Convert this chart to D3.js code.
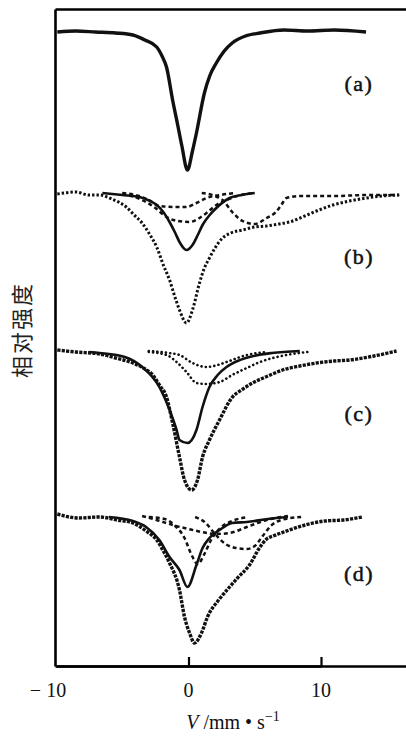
<!DOCTYPE html>
<html><head><meta charset="utf-8">
<script src="https://cdn.jsdelivr.net/npm/d3@7"></script>
<style>html,body{margin:0;padding:0;background:#fff;}svg{display:block;}</style>
</head><body>
<svg id="chart" width="406" height="742"></svg>
<script>
// ---- data: velocity (mm/s), relative transmission intensity ----
const panelLabels = ["(a)", "(b)", "(c)", "(d)"];
const xTicks = [-10, 0, 10];
const xTickLabels = ["\u2212 10", "0", "10"];
const yAxisTitle = "相对强度";

const specA = [[-9.9,0.999],[-8.5,1.000],[-7,0.999],[-5.5,0.998],[-4.2,0.996],[-3.3,0.991],[-2.4,0.984],[-2.0,0.975],[-1.66,0.964],[-1.2,0.931],[-0.8,0.905],[-0.5,0.885],[-0.08,0.861],[0.3,0.880],[0.6,0.898],[1.2,0.938],[1.6,0.955],[2.1,0.968],[2.7,0.980],[3.3,0.988],[4.3,0.995],[5.4,0.998],[7.2,1.001],[9,1.000],[11,1.001],[13.4,0.999]];

const specB = [[-9.9,0.999],[-8.5,1.001],[-7.5,0.998],[-6.7,0.998],[-5.8,0.994],[-4.7,0.986],[-4.1,0.978],[-3.5,0.970],[-2.9,0.958],[-2.4,0.946],[-1.9,0.928],[-1.43,0.913],[-1.0,0.895],[-0.68,0.883],[-0.15,0.870],[0.3,0.883],[0.83,0.910],[1.2,0.925],[1.58,0.935],[2.0,0.945],[2.57,0.955],[3.2,0.960],[4.08,0.963],[5.0,0.966],[5.89,0.967],[6.8,0.969],[7.62,0.971],[8.6,0.976],[9.66,0.982],[10.9,0.988],[12.15,0.992],[13.43,0.995],[14.6,0.997],[15.9,0.998]];
const fitBSolid = [[-6.5,1.0],[-5,0.998],[-3.7,0.996],[-2.9,0.992],[-2.4,0.988],[-1.9,0.981],[-1.43,0.971],[-1.0,0.960],[-0.68,0.951],[-0.15,0.943],[0.3,0.948],[0.7,0.958],[1.06,0.968],[1.6,0.978],[2.1,0.985],[3.1,0.995],[4.0,0.998],[5.0,1.0]];
const fitBDash1 = [[-5,1.0],[-4,0.998],[-3,0.993],[-2.2,0.987],[-1,0.986],[-0.15,0.986],[0.6,0.990],[1.36,0.995],[2.4,0.998],[3.5,1.0]];
const fitBDash2 = [[-5,0.999],[-3.5,0.993],[-2.5,0.985],[-1.66,0.976],[-0.8,0.972],[0.08,0.971],[0.7,0.974],[1.36,0.980],[2.1,0.988],[2.87,0.993],[4,0.998],[5,1.0]];
const fitBDash3 = [[1,1.0],[2,0.997],[2.57,0.993],[3.3,0.981],[4.08,0.972],[5,0.969],[5.9,0.975],[6.6,0.981],[7.0,0.988],[7.4,0.995],[8.5,0.997],[11,0.997],[13.5,0.998],[15.9,0.998]];

const specC = [[-9.9,1.001],[-8.5,0.999],[-6.7,0.997],[-5.5,0.993],[-4.2,0.988],[-3.4,0.983],[-2.7,0.976],[-2.2,0.966],[-1.66,0.954],[-1.2,0.928],[-0.68,0.894],[-0.3,0.871],[0.23,0.861],[0.68,0.871],[1.06,0.894],[1.58,0.911],[2.34,0.931],[3.32,0.954],[4.0,0.961],[4.83,0.968],[6.0,0.975],[7.1,0.981],[8.4,0.985],[9.66,0.988],[11,0.990],[12.15,0.991],[14,0.995],[15.7,1.000]];
const fitCSolid = [[-7.5,0.999],[-6.7,0.998],[-4.8,0.994],[-3.5,0.984],[-2.2,0.964],[-1.43,0.941],[-0.9,0.921],[-0.68,0.911],[-0.08,0.908],[0.6,0.921],[1.06,0.944],[1.58,0.964],[2.2,0.976],[2.87,0.984],[3.7,0.990],[4.6,0.994],[6.3,0.998],[8.4,1.0]];
const fitCDot1 = [[-3,0.999],[-1.66,0.996],[-0.9,0.989],[-0.15,0.979],[0.6,0.968],[1.36,0.967],[2.34,0.969],[3.3,0.976],[4.4,0.983],[5.4,0.989],[7.4,0.996],[9,0.999]];
const fitCDot2 = [[-3,1.0],[-1.5,0.998],[-0.68,0.996],[0.3,0.988],[1.36,0.984],[2.2,0.986],[2.87,0.989],[4.4,0.996],[6,0.999]];

const specD = [[-9.9,1.002],[-8.3,0.998],[-6.7,0.999],[-5.4,0.996],[-4.2,0.993],[-3.2,0.985],[-2.4,0.976],[-1.9,0.965],[-1.43,0.953],[-0.68,0.926],[-0.3,0.899],[0.08,0.883],[0.45,0.873],[0.98,0.883],[1.43,0.899],[2.34,0.917],[3.1,0.929],[3.7,0.938],[4.6,0.951],[5.4,0.969],[5.9,0.977],[6.4,0.980],[7.4,0.985],[8.8,0.991],[10.3,0.995],[11.7,0.996],[13.1,0.999]];
const fitDSolid = [[-6,0.999],[-4.2,0.995],[-3.2,0.989],[-2.2,0.976],[-1.43,0.959],[-0.68,0.946],[-0.08,0.929],[0.6,0.951],[1.06,0.968],[1.58,0.978],[2.34,0.986],[3.3,0.993],[4.4,0.994],[6,0.997],[7.5,0.999]];
const fitDDash1 = [[-3,0.999],[-1.8,0.997],[-1.0,0.990],[-0.3,0.978],[0.2,0.962],[0.7,0.952],[1.2,0.962],[1.7,0.976],[2.4,0.988],[3.3,0.995],[4.5,0.999]];
const fitDDash2 = [[0.5,0.999],[1.3,0.993],[2.0,0.982],[2.8,0.972],[3.6,0.968],[4.4,0.967],[5.0,0.970],[5.6,0.980],[6.2,0.990],[7.0,0.996],[8.5,0.999]];
const fitDDash3 = [[-3.5,1.0],[-2.4,0.996],[-1.2,0.991],[0,0.987],[1.0,0.984],[2.0,0.982],[3.1,0.983],[4.4,0.989],[5.9,0.996],[7.5,1.0]];

// ---- layout ----
const svg = d3.select("#chart");
const frameL = 55, frameT = 9, frameB = 666, frameR = 406;
const x = d3.scaleLinear().domain([-10, 10]).range([56, 321]);
const xFrame = d3.scaleLinear().domain([-10.08, 16.4]).range([frameL, frameR]);
const yFrame = d3.scaleLinear().domain([0, 1]).range([frameB, frameT]);
const baselines = [31, 193, 351, 516];
const yScales = baselines.map(b => d3.scaleLinear().domain([1, 0.86]).range([b, b + 140]));

// frame via d3 axes
const axStyle = g => {
  g.selectAll(".domain").attr("stroke", "black").attr("stroke-width", 2.6);
  g.selectAll(".tick line").attr("stroke", "black").attr("stroke-width", 2.2);
  g.selectAll(".tick text").remove();
};
svg.append("g").attr("transform", `translate(${frameL},0)`)
  .call(d3.axisLeft(yFrame).tickValues([]).tickSizeOuter(0)).call(axStyle);
svg.append("g").attr("transform", `translate(0,${frameT})`)
  .call(d3.axisTop(xFrame).tickValues([]).tickSizeOuter(0)).call(axStyle);
svg.append("g").attr("transform", `translate(0,${frameB})`)
  .call(d3.axisBottom(x).tickValues(xTicks.slice(1)).tickSizeInner(-9).tickSizeOuter(0)).call(axStyle);
svg.append("g").attr("transform", `translate(0,${frameB})`)
  .call(d3.axisBottom(xFrame).tickValues([]).tickSizeOuter(0)).call(axStyle);

const styles = {
  dataSolid: {w: 3.4, dash: null},
  dataDots: {w: 3, dash: "2.4,2"},
  dataDense: {w: 3.4, dash: "3.2,1.2"},
  solid: {w: 2.6, dash: null},
  dash: {w: 2.5, dash: "4,3"},
  dot: {w: 2.6, dash: "0.1,4.2"}
};

const panels = [
  {series: [[specA, "dataSolid"]]},
  {series: [[specB, "dataDots"], [fitBSolid, "solid"], [fitBDash1, "dash"], [fitBDash2, "dash"], [fitBDash3, "dash"]]},
  {series: [[specC, "dataDense"], [fitCSolid, "solid"], [fitCDot1, "dot"], [fitCDot2, "dot"]]},
  {series: [[specD, "dataDense"], [fitDSolid, "solid"], [fitDDash1, "dash"], [fitDDash2, "dash"], [fitDDash3, "dash"]]}
];

panels.forEach((p, i) => {
  const y = yScales[i];
  const line = d3.line().x(d => x(d[0])).y(d => y(d[1])).curve(d3.curveMonotoneX);
  p.series.forEach(([data, st]) => {
    const s = styles[st];
    const path = svg.append("path").attr("d", line(data)).attr("fill", "none")
      .attr("stroke", "#111").attr("stroke-width", s.w)
      .attr("stroke-linecap", st === "dot" ? "round" : "butt")
      .attr("stroke-linejoin", "round");
    if (s.dash) path.attr("stroke-dasharray", s.dash);
  });
  svg.append("text").attr("x", 359).attr("y", baselines[i] + [60, 71, 70, 65][i])
    .attr("text-anchor", "middle").attr("font-family", "'Liberation Serif', serif")
    .attr("font-size", 22).attr("fill", "#111").attr("stroke", "#111").attr("stroke-width", 0.5)
    .attr("letter-spacing", 1.5)
    .text(panelLabels[i]);
});

// x tick labels
xTicks.forEach((t, i) => {
  svg.append("text").attr("x", x(t) + (i === 0 ? -8 : 0)).attr("y", 697)
    .attr("text-anchor", "middle").attr("font-family", "'Liberation Serif', serif")
    .attr("font-size", 20).attr("fill", "#111").text(xTickLabels[i]);
});

// x axis title
const xt = svg.append("text").attr("x", 233).attr("y", 729).attr("text-anchor", "middle")
  .attr("font-family", "'Liberation Serif', serif").attr("font-size", 20).attr("fill", "#111");
xt.append("tspan").attr("font-style", "italic").text("V");
xt.append("tspan").text(" /mm \u2022 s");
xt.append("tspan").attr("font-size", 14).attr("dy", -8).text("\u22121");

// y axis title
svg.append("text").attr("transform", "translate(30,330) rotate(-90)")
  .attr("text-anchor", "middle").attr("font-family", "'Noto Sans CJK SC', sans-serif")
  .attr("font-size", 22).attr("fill", "#222").attr("letter-spacing", 2).text(yAxisTitle);
</script>
</body></html>
